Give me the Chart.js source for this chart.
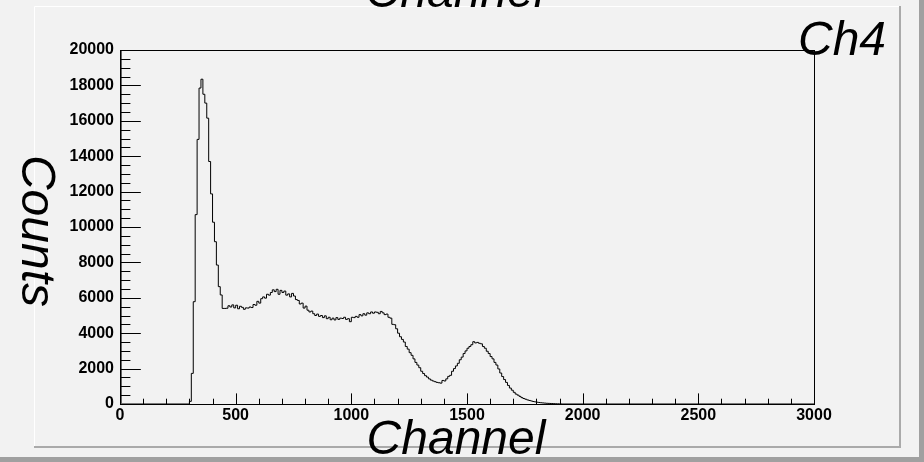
<!DOCTYPE html>
<html>
<head>
<meta charset="utf-8">
<script src="https://cdn.jsdelivr.net/npm/chart.js@4/dist/chart.umd.min.js"></script>
<style>
  html, body { margin: 0; padding: 0; background: #f2f2f2; }
  canvas { display: block; }
</style>
</head>
<body>
<canvas id="ch4" width="924" height="462"></canvas>
<script>
// Ch4 spectrum: 360 bins over 0..3000, listed from bin 36 (channel 300) on
var nBins = 360;
var xMin = 0, xMax = 3000;
var firstBin = 36;
var counts = [
  150, 1730, 5780, 10700, 14950, 17850, 18350, 17500, 17000, 16150,
  13700, 11870, 10270, 9170, 7850, 6630, 6160, 5400, 5400, 5410,
  5550, 5480, 5600, 5430, 5580, 5380, 5520, 5460, 5350, 5430,
  5420, 5480, 5450, 5620, 5580, 5800, 5700, 5950, 6050, 5980,
  6200, 6150, 6300, 6450, 6350, 6480, 6200, 6420, 6300, 6380,
  6150, 6220, 6050, 6250, 6100, 5900, 5850, 5650, 5700, 5420,
  5530, 5300, 5200, 5250, 5100, 5000, 5080, 4950, 5000, 4880,
  4980, 4820, 4900, 4760, 4850, 4750, 4880, 4780, 4850, 4830,
  4900, 4780, 4820, 4650, 4900, 4880, 4950, 4900, 5050, 4980,
  5100, 5020, 5150, 5100, 5200, 5130, 5200, 5180, 5100, 5230,
  5150, 5050, 5080, 4900, 4850, 4500, 4480, 4250, 4000, 3800,
  3650, 3500, 3250, 3100, 2900, 2750, 2550, 2350, 2200, 2050,
  1850, 1720, 1600, 1520, 1420, 1350, 1300, 1260, 1220, 1200,
  1180, 1330, 1300, 1420, 1560, 1620, 1850, 2000, 2150, 2300,
  2500, 2650, 2850, 3000, 3150, 3250, 3350, 3520, 3450, 3480,
  3430, 3400, 3250, 3150, 2980, 2850, 2680, 2550, 2350, 2200,
  1980, 1750, 1550, 1380, 1220, 1050, 900, 780, 660, 560,
  500, 430, 360, 310, 270, 230, 200, 170, 140, 120,
  100, 85, 70, 60, 50, 40, 35, 30, 25, 20,
  15, 12, 10
];

var xTicks = [0, 500, 1000, 1500, 2000, 2500, 3000];
var yTicks = [0, 2000, 4000, 6000, 8000, 10000, 12000, 14000, 16000, 18000, 20000];
var xMinorStep = 100;
var yMinorStep = 500;
var yMax = 20000;

var binWidth = (xMax - xMin) / nBins;

// histogram outline: one point per bin low edge, stepped
var points = [{ x: xMin, y: 0 }];
counts.forEach(function(c, i) {
  points.push({ x: xMin + (firstBin + i) * binWidth, y: c });
});
points.push({ x: xMin + (firstBin + counts.length) * binWidth, y: 0 });
points.push({ x: xMax, y: 0 });

var labelFont = { family: "'Liberation Sans', Arial, sans-serif", size: 16, weight: 'bold' };
var titleFont = "italic 48px 'Liberation Sans', Arial, sans-serif";
var plain = function(v) { return String(v); };

var padBox = {
  id: 'padBox',
  beforeDraw: function(chart) {
    var ctx = chart.ctx;
    ctx.save();
    ctx.fillStyle = '#f2f2f2';
    ctx.fillRect(0, 0, chart.width, chart.height);
    // outer canvas edge
    ctx.fillStyle = '#a0a0a0';
    ctx.fillRect(919, 0, 5, chart.height);
    ctx.fillRect(0, 457, chart.width, 5);
    // pad bevel
    ctx.lineWidth = 1;
    ctx.strokeStyle = '#ffffff';
    ctx.beginPath();
    ctx.moveTo(34.5, 447);
    ctx.lineTo(34.5, 6.5);
    ctx.lineTo(900, 6.5);
    ctx.stroke();
    ctx.strokeStyle = '#aaaaaa';
    ctx.lineWidth = 2;
    ctx.beginPath();
    ctx.moveTo(900, 6);
    ctx.lineTo(900, 447);
    ctx.lineTo(34, 447);
    ctx.stroke();
    ctx.restore();
  },
  afterDraw: function(chart) {
    var ctx = chart.ctx;
    var a = chart.chartArea;
    var xs = chart.scales.x, ys = chart.scales.y;
    var w = a.right - a.left, h = a.bottom - a.top;
    ctx.save();
    ctx.strokeStyle = '#000';
    ctx.lineWidth = 1;
    ctx.strokeRect(Math.round(a.left) + 0.5, Math.round(a.top) + 0.5,
                   Math.round(w), Math.round(h));
    // left axis drawn a bit heavier
    ctx.strokeStyle = '#666';
    ctx.beginPath();
    ctx.moveTo(Math.round(a.left) + 1.5, a.top);
    ctx.lineTo(Math.round(a.left) + 1.5, a.bottom);
    ctx.stroke();

    // ticks inside the frame, bottom and left only
    ctx.strokeStyle = '#000';
    ctx.beginPath();
    for (var v = xMin; v <= xMax; v += xMinorStep) {
      var px = Math.round(xs.getPixelForValue(v)) + 0.5;
      var len = (v % 500 === 0 ? 0.03 : 0.015) * h;
      ctx.moveTo(px, a.bottom);
      ctx.lineTo(px, a.bottom - len);
    }
    for (var u = 0; u <= yMax; u += yMinorStep) {
      var py = Math.round(ys.getPixelForValue(u)) + 0.5;
      var l2 = (u % 2000 === 0 ? 0.03 : 0.015) * w;
      ctx.moveTo(a.left, py);
      ctx.lineTo(a.left + l2, py);
    }
    ctx.stroke();

    // titles
    ctx.fillStyle = '#000';
    ctx.font = titleFont;
    ctx.textAlign = 'center';
    ctx.textBaseline = 'alphabetic';
    ctx.fillText('Channel', 456, 454);
    ctx.fillText('Channel', 455, 7);
    ctx.fillText('Ch4', 842, 55);
    ctx.translate(22, 231);
    ctx.rotate(Math.PI / 2);
    ctx.fillText('Counts', 0, 0);
    ctx.restore();
  }
};

var chart = new Chart(document.getElementById('ch4'), {
  type: 'line',
  data: {
    datasets: [{
      data: points,
      borderColor: '#000',
      borderWidth: 1,
      pointRadius: 0,
      stepped: 'before',
      fill: false
    }]
  },
  options: {
    responsive: false,
    animation: false,
    events: [],
    layout: { padding: { left: 0, top: 50, right: 110, bottom: 0 } },
    plugins: { legend: { display: false }, tooltip: { enabled: false } },
    scales: {
      x: {
        type: 'linear',
        min: xMin,
        max: xMax,
        afterBuildTicks: function(s) { s.ticks = xTicks.map(function(v) { return { value: v }; }); },
        afterFit: function(s) { s.height = 58; },
        grid: { display: false, drawTicks: false },
        border: { display: false },
        ticks: { font: labelFont, color: '#000', padding: 2, maxRotation: 0, autoSkip: false, callback: plain }
      },
      y: {
        type: 'linear',
        min: 0,
        max: yMax,
        afterBuildTicks: function(s) { s.ticks = yTicks.map(function(v) { return { value: v }; }); },
        afterFit: function(s) { s.width = 120; },
        grid: { display: false, drawTicks: false },
        border: { display: false },
        ticks: { font: labelFont, color: '#000', padding: 6, autoSkip: false, callback: plain }
      }
    }
  },
  plugins: [padBox]
});
</script>
</body>
</html>
